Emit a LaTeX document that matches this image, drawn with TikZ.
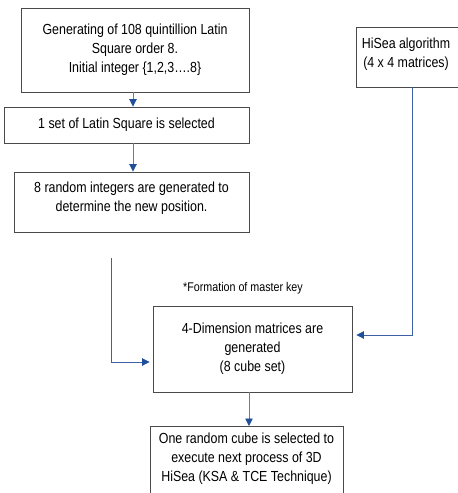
\documentclass[tikz,border=0pt]{standalone}
\usepackage{fontspec}
\setmainfont{Liberation Sans}[FakeStretch=0.85]
\usetikzlibrary{arrows.meta,calc}
\definecolor{boxline}{HTML}{4A4A4A}
\definecolor{arrline}{HTML}{6C78A8}
\definecolor{arrhead}{HTML}{1F4E9A}
\definecolor{elbow}{HTML}{3E5FA6}
\begin{document}
\begin{tikzpicture}[x=1pt,y=-1pt,
  box/.style={draw=boxline, line width=0.9pt, align=center, inner sep=0pt,
    font=\fontsize{14.6}{19}\selectfont},
  txt/.style={align=center, inner sep=0pt, font=\fontsize{14.6}{19}\selectfont},
  arr/.style={draw=arrline, line width=0.9pt,
    -{Triangle[width=7.5pt,length=7.5pt,fill=arrhead,color=arrhead]}},
  elb/.style={draw=elbow, line width=0.9pt,
    -{Triangle[width=7.5pt,length=7.5pt,fill=arrhead,color=arrhead]}}]
\useasboundingbox (0,0) rectangle (458,493);
\begin{scope}
\clip (0,0) rectangle (458,493);
\node[box, minimum width=228pt, minimum height=84pt] (n1) at (135,50)
  {Generating of 108 quintillion Latin\\Square order 8.\\Initial integer \{1,2,3\dots.8\}};
\node[box, minimum width=245pt, minimum height=36pt] (n2) at (126.5,125)
  {1 set of Latin Square is selected};
\node[box, minimum width=235pt, minimum height=60pt] (n3) at (131.5,202) {};
\node[txt] (t3) at (131.5,198) {8 random integers are generated to\\determine the new position.};
\node[box, minimum width=108pt, minimum height=60pt] (n6) at (410,57) {};
\node[txt] (t6) at (406,54) {HiSea algorithm\\(4 x 4 matrices)};
\node[txt, font=\fontsize{12.6}{15}\selectfont] (lab) at (243,288) {*Formation of master key};
\node[box, minimum width=199pt, minimum height=86pt] (n4) at (252.5,349)
  {4-Dimension matrices are\\generated\\(8 cube set)};
\node[box, minimum width=193pt, minimum height=90pt, anchor=north] (n5) at (246.5,426) {};
\node[txt] (t5) at (246.5,459) {One random cube is selected to\\execute next process of 3D\\HiSea (KSA \& TCE Technique)};
\coordinate (c1) at (111,258);
\draw[arr] ([xshift=-2pt]n1.south) -- ([xshift=6.5pt]n2.north);
\draw[arr] ([xshift=6.5pt]n2.south) -- ([xshift=1.5pt]n3.north);
\draw[arr] ([xshift=-3.5pt]n4.south) -- ([xshift=2.5pt]n5.north);
\draw[elb, shorten >=3pt] (c1) |- ([yshift=-13pt]n4.west);
\draw[elb, shorten >=4pt] ([xshift=2pt]n6.south) |- ([yshift=14pt]n4.east);
\end{scope}
\end{tikzpicture}
\end{document}
